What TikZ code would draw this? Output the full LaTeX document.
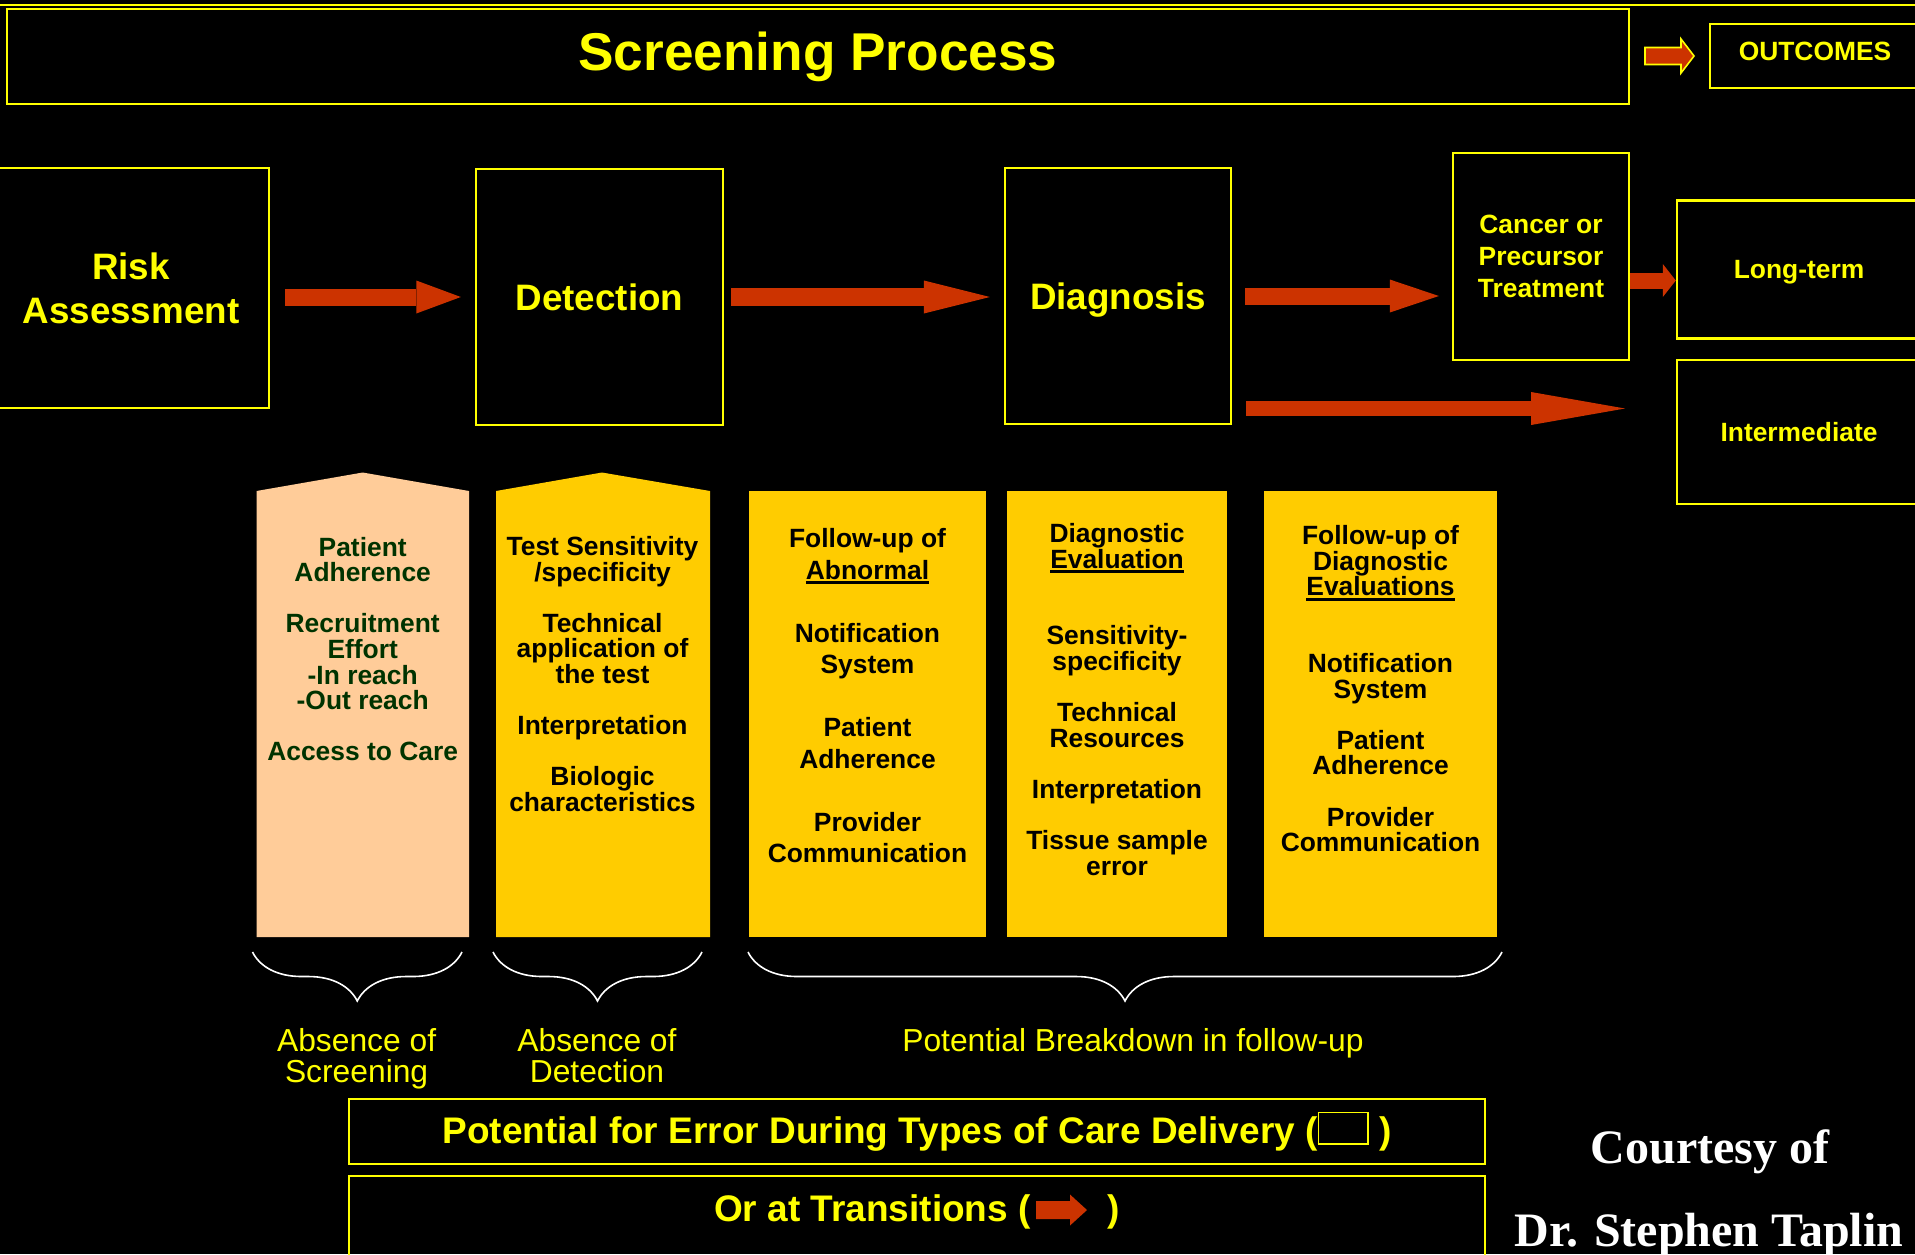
\documentclass[tikz,border=0pt]{standalone}
\usepackage{fontspec}
\setmainfont{Liberation Sans}
\newfontfamily\courtesyfont{Liberation Serif}
\usetikzlibrary{arrows.meta,decorations.pathreplacing}

\definecolor{procyellow}{HTML}{FFFF00}
\definecolor{arrowred}{HTML}{CC3300}
\definecolor{colgold}{HTML}{FFCC00}
\definecolor{colpeach}{HTML}{FFCC99}
\definecolor{textgreen}{HTML}{003300}

\newcommand{\ulword}[1]{\setbox0=\hbox{#1}\rlap{\rule[-2.6pt]{\wd0}{1.5pt}}\box0}

\tikzset{
  stagebox/.style={draw=procyellow, line width=1.2pt, text=procyellow, align=center, inner sep=0pt,
    font=\bfseries\fontsize{18.4}{22}\selectfont},
  smallbox/.style={stagebox, font=\bfseries\fontsize{13.2}{15.8}\selectfont},
  flowarrow/.style={draw=arrowred, line width=8.5pt, -{Triangle[length=#1, width=16.5pt, line width=0pt]}},
  flowarrow/.default=22pt,
  coltext/.style={anchor=north, align=center, inner sep=0pt, font=\bfseries\fontsize{13.2}{12.8}\selectfont},
  gapbrace/.style={draw=white, line width=0.8pt, decorate, decoration={brace, mirror, amplitude=24.5pt}},
  gaplabel/.style={anchor=north, align=center, inner sep=0pt, text=procyellow,
    font=\fontsize{15.9}{15.3}\selectfont},
  courtesy/.style={anchor=base, text=white, inner sep=0pt, font=\courtesyfont\bfseries\fontsize{24}{28}\selectfont}
}

\begin{document}
\begin{tikzpicture}[x=0.5pt, y=-0.5pt]
\useasboundingbox (0,0) rectangle (1915,1254);
\fill[black] (0,0) rectangle (1915,1254);
\clip (0,0) rectangle (1915,1254);
\draw[procyellow, line width=0.9pt] (0,5) -- (1915,5);

\node[stagebox, minimum width=811pt, minimum height=47.5pt, font=\bfseries\fontsize{26.6}{30}\selectfont] (title) at (818,56.5) {Screening Process};
\node[smallbox, minimum width=105pt, minimum height=32pt, text depth=5pt] (outcomes) at (1815,56) {OUTCOMES};
\filldraw[fill=arrowred, draw=procyellow, line width=0.8pt] (1645,47.5) -- (1681,47.5) -- (1681,39) -- (1694,56) -- (1681,73) -- (1681,64.5) -- (1645,64.5) -- cycle;

\node[stagebox, minimum width=138pt, minimum height=119.75pt] (risk) at (131,288) {Risk\\Assessment};
\node[stagebox, minimum width=123.5pt, minimum height=128.25pt] (detect) at (599.5,297) {Detection};
\node[stagebox, minimum width=113pt, minimum height=127.75pt, text depth=0pt] (diag) at (1118,296) {Diagnosis};
\node[smallbox, minimum width=88pt, minimum height=103.5pt] (cancer) at (1541,256.5) {Cancer or\\Precursor\\Treatment};
\node[smallbox, minimum width=122pt, minimum height=69pt, text depth=0pt] (longterm) at (1799,269.5) {Long-term};
\node[smallbox, minimum width=122pt, minimum height=72pt] (inter) at (1799,432) {Intermediate};

\coordinate (lowtip) at (1625,408.5);
\coordinate (ltin) at ([yshift=-5.5pt]longterm.west);
\draw[flowarrow=22.25pt, shorten <=7.5pt, shorten >=7pt] (risk.east |- detect.west) -- (detect.west);
\draw[flowarrow=33pt, line width=9pt, shorten <=3.5pt, shorten >=7pt] (detect.east) -- (detect.east -| diag.west);
\draw[flowarrow=24.5pt, shorten <=6.5pt, shorten >=6.5pt] (diag.east) -- (diag.east -| cancer.west);
\draw[flowarrow=47pt, line width=7.75pt, shorten <=7pt] (diag.east |- lowtip) -- (lowtip);
\draw[flowarrow=6.5pt, line width=8pt] (cancer.east |- ltin) -- (ltin);

\fill[colpeach] (256.5,937) -- (256.5,491) -- (362.7,472.5) -- (469,491) -- (469,937) -- cycle;
\fill[colgold] (496,937) -- (496,491) -- (602,472.5) -- (710,491) -- (710,937) -- cycle;
\fill[colgold] (749,491) rectangle (986,937);
\fill[colgold] (1007,491) rectangle (1227,937);
\fill[colgold] (1264,491) rectangle (1497,937);

\node[coltext, text=textgreen] (adhere) at (362.7,536.5) {Patient\\Adherence\\[\baselineskip]Recruitment\\Effort\\-In reach\\-Out reach\\[\baselineskip]Access to Care};
\node[coltext] (sens) at (602.5,536) {Test Sensitivity\\/specificity\\[\baselineskip]Technical\\application of\\the test\\[\baselineskip]Interpretation\\[\baselineskip]Biologic\\characteristics};
\node[coltext, font=\bfseries\fontsize{13.2}{15.75}\selectfont] (abnormal) at (867.5,528) {Follow-up of\\\ulword{Abnormal}\\[\baselineskip]Notification\\System\\[\baselineskip]Patient\\Adherence\\[\baselineskip]Provider\\Communication};
\node[coltext] (evaluate) at (1117,523) {Diagnostic\\\ulword{Evaluation}\\[2\baselineskip]Sensitivity-\\specificity\\[\baselineskip]Technical\\Resources\\[\baselineskip]Interpretation\\[\baselineskip]Tissue sample\\error};
\node[coltext] (followdiag) at (1380.5,525) {Follow-up of\\Diagnostic\\\ulword{Evaluations}\\[2\baselineskip]Notification\\System\\[\baselineskip]Patient\\Adherence\\[\baselineskip]Provider\\Communication};

\draw[gapbrace] (252.5,952) -- (462,952);
\draw[gapbrace] (493,952) -- (702,952);
\draw[gapbrace] (748,952) -- (1502,952);
\node[gaplabel] (noscreen) at (356.6,1028.5) {Absence of\\Screening};
\node[gaplabel] (nodetect) at (597,1028.5) {Absence of\\Detection};
\node[gaplabel] (breakdown) at (1133,1028.5) {Potential Breakdown in follow-up};

\node[stagebox, minimum width=568pt, minimum height=32.5pt, font=\bfseries\fontsize{18.5}{22}\selectfont] (errors) at (917,1131.5) {Potential for Error During Types of Care Delivery ({\setlength{\fboxsep}{0pt}\setlength{\fboxrule}{0.8pt}\fbox{\rule{0pt}{15pt}\hspace{24pt}}} )};
\node[stagebox, minimum width=568pt, minimum height=43pt] (transits) at (917,1219) {};
\node[text=procyellow, inner sep=0pt, font=\bfseries\fontsize{18.5}{22}\selectfont] (transtext) at (917,1212) {Or at Transitions (\hspace{38.5pt})};
\fill[arrowred] (1036,1201) -- (1070,1201) -- (1070,1194.5) -- (1087,1210) -- (1070,1225.5) -- (1070,1219) -- (1036,1219) -- cycle;

\node[courtesy] (courtesy) at (1710,1163) {Courtesy of};
\node[courtesy] (taplin) at (1709,1246) {Dr. Stephen Taplin};
\end{tikzpicture}
\end{document}
